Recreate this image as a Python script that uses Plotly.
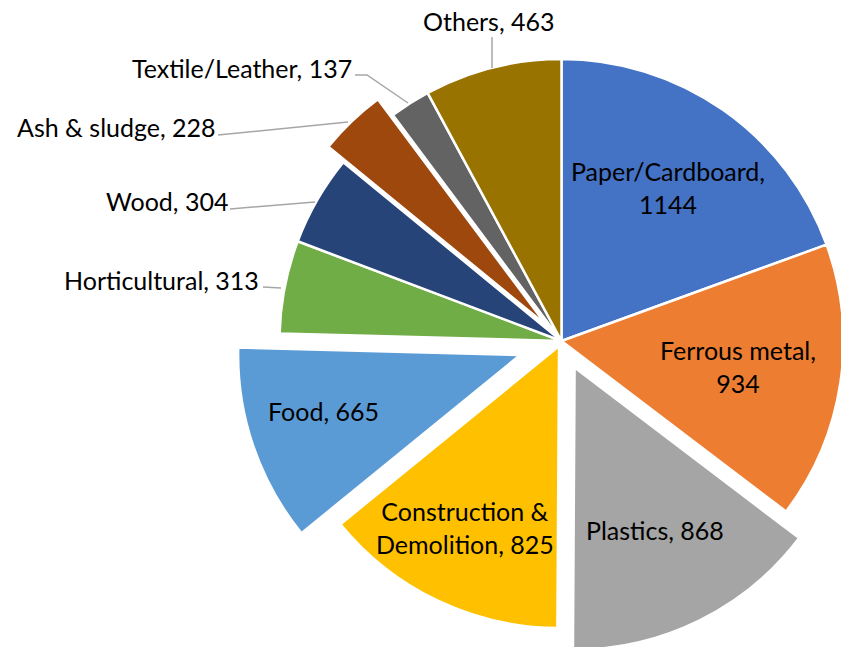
import plotly.graph_objects as go

# ---- data ----
categories = ["Paper/Cardboard", "Ferrous metal", "Plastics", "Construction & Demolition",
              "Food", "Horticultural", "Wood", "Ash & sludge", "Textile/Leather", "Others"]
values = [1144, 934, 868, 825, 665, 313, 304, 228, 137, 463]
colors = ["#4472C4", "#ED7D31", "#A5A5A5", "#FFC000", "#5B9BD5",
          "#70AD47", "#264478", "#9E480E", "#636363", "#997300"]
pulls = [0, 0, 0.105, 0.02, 0.155, 0, 0, 0.077, 0, 0]

# label layout (pixel centres of each label), and how each label wraps
label_pos = {
    "Paper/Cardboard": (668, 187), "Ferrous metal": (738, 366), "Plastics": (655, 530),
    "Construction & Demolition": (465, 527), "Food": (323, 411), "Horticultural": (161, 280),
    "Wood": (167, 201), "Ash & sludge": (116, 127), "Textile/Leather": (242, 68), "Others": (489, 21),
}
wrapped = {"Paper/Cardboard": "Paper/Cardboard,<br>{v}", "Ferrous metal": "Ferrous metal,<br>{v}",
           "Construction & Demolition": "Construction &<br>Demolition, {v}"}
leaders = {
    "Others": [(492, 37), (492, 68)],
    "Textile/Leather": [(355, 75), (367, 75), (408, 103)],
    "Ash & sludge": [(218, 135), (348, 122)],
    "Wood": [(230, 209), (315, 202)],
    "Horticultural": [(263, 287), (281, 288)],
}

W, H = 900, 680          # larger than the window; the window crops it like the reference
CX, CY, R = 561.5, 341, 282
half = R * (1 + max(pulls))

def px(x):
    return x / W

def py(y):
    return 1 - y / H

fig = go.Figure(go.Pie(
    labels=categories, values=values, pull=pulls, sort=False, direction="clockwise",
    rotation=0, textinfo="none", hoverinfo="label+value",
    marker=dict(colors=colors, line=dict(color="white", width=2.5)),
    domain=dict(x=[(CX - half) / W, (CX + half) / W], y=[1 - (CY + half) / H, 1 - (CY - half) / H]),
    showlegend=False,
))

font = dict(family="Lato, Open Sans, sans-serif", size=25, color="#000000")
for name, v in zip(categories, values):
    txt = wrapped.get(name, name + ", {v}").format(v=v)
    x, y = label_pos[name]
    fig.add_annotation(x=px(x), y=py(y), xref="paper", yref="paper", text=txt,
                       showarrow=False, xanchor="center", yanchor="middle", font=font, align="center")

for name, pts in leaders.items():
    path = "M " + " L ".join(f"{px(a)},{py(b)}" for a, b in pts)
    fig.add_shape(type="path", path=path, xref="paper", yref="paper",
                  line=dict(color="#A6A6A6", width=1.5))

fig.update_layout(width=W, height=H, margin=dict(l=0, r=0, t=0, b=0),
                  paper_bgcolor="white", plot_bgcolor="white")
fig.write_html("out.html")
